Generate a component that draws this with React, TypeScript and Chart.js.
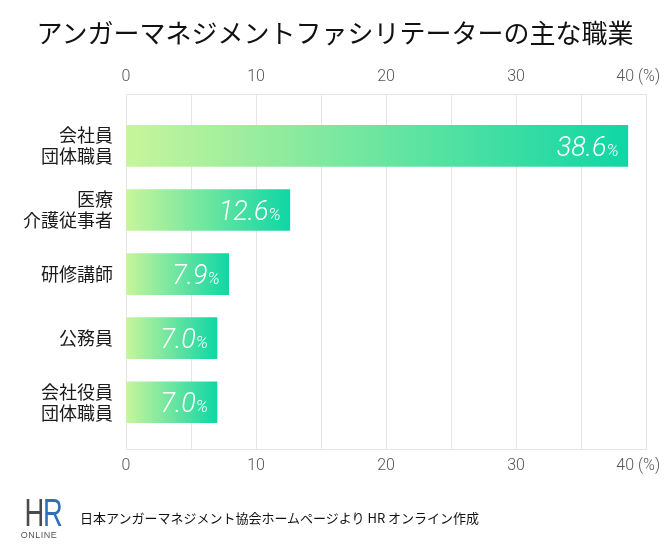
import React, { useEffect, useRef } from "react";
import { Chart, registerables } from "chart.js";

Chart.register(...registerables);

const TITLE = "アンガーマネジメントファシリテーターの主な職業";
const CATEGORIES: (string | string[])[] = [
  ["会社員", "団体職員"],
  ["医療", "介護従事者"],
  "研修講師",
  "公務員",
  ["会社役員", "団体職員"],
];
const VALUES = [38.6, 12.6, 7.9, 7.0, 7.0];
const X_MAX = 40;
const X_GRID_STEP = 5;
const X_LABEL_STEP = 10;
const UNIT = "(%)";
const PCT = "%";
const SOURCE = "日本アンガーマネジメント協会ホームページより HR オンライン作成";

const GRAD_START = "#c8f59b";
const GRAD_END = "#10d6a5";

const tickLabel = (v: number) => {
  if (v % X_LABEL_STEP !== 0) return "";
  if (v === X_MAX) return `${v} ${UNIT}    `;
  return String(v);
};

const valueLabelPlugin = {
  id: "valueLabels",
  afterDatasetsDraw(chart: any) {
    const ctx = chart.ctx;
    const meta = chart.getDatasetMeta(0);
    ctx.save();
    ctx.fillStyle = "#ffffff";
    ctx.textBaseline = "alphabetic";
    ctx.textAlign = "right";
    meta.data.forEach((bar: any, i: number) => {
      const v = VALUES[i];
      const right = bar.x - 9;
      const base = bar.y + 10;
      ctx.font = "italic 300 17px Roboto, 'Liberation Sans', sans-serif";
      const pw = ctx.measureText(PCT).width;
      ctx.fillText(PCT, right, base);
      ctx.font = "italic 300 27px Roboto, 'Liberation Sans', sans-serif";
      ctx.fillText(v.toFixed(1), right - pw, base);
    });
    ctx.restore();
  },
};

export default function App() {
  const ref = useRef<HTMLCanvasElement | null>(null);

  useEffect(() => {
    if (!ref.current) return;
    const xTickOpts = {
      stepSize: X_GRID_STEP,
      autoSkip: false,
      maxRotation: 0,
      padding: 7,
      color: "#555555",
      font: { family: "Roboto, 'Liberation Sans', sans-serif", size: 16, weight: "300" as any },
      callback: (v: any) => tickLabel(Number(v)),
    };
    const chart = new Chart(ref.current, {
      type: "bar",
      data: {
        datasets: [
          {
            data: VALUES.map((v, i) => ({ x: v, y: i })),
            barThickness: 41,
            borderWidth: 0,
            backgroundColor: (c: any) => {
              const ch = c.chart;
              const xs = ch.scales && ch.scales.x;
              if (!xs || c.type !== "data" || !c.raw) return GRAD_END;
              const x0 = xs.getPixelForValue(0);
              const x1 = xs.getPixelForValue(c.raw.x);
              if (!isFinite(x0) || !isFinite(x1) || x1 <= x0) return GRAD_END;
              const g = ch.ctx.createLinearGradient(x0, 0, x1, 0);
              g.addColorStop(0, GRAD_START);
              g.addColorStop(1, GRAD_END);
              return g;
            },
          },
        ],
      },
      options: {
        indexAxis: "y",
        responsive: false,
        animation: false,
        layout: { padding: { top: 60, right: 24, bottom: 81, left: 0 } },
        plugins: {
          legend: { display: false },
          tooltip: { enabled: false },
          title: { display: false },
        },
        scales: {
          x: {
            type: "linear",
            position: "bottom",
            min: 0,
            max: X_MAX,
            grid: { color: "#e6e6e6", lineWidth: 1, drawTicks: false },
            border: { display: true, color: "#e6e6e6" },
            ticks: xTickOpts,
            afterFit: (s: any) => {
              s.height = 30;
              s.paddingLeft = 0;
              s.paddingRight = 0;
            },
          },
          x2: {
            type: "linear",
            position: "top",
            min: 0,
            max: X_MAX,
            grid: { display: false, drawTicks: false },
            border: { display: true, color: "#e6e6e6" },
            ticks: xTickOpts,
            afterFit: (s: any) => {
              s.height = 34;
              s.paddingLeft = 0;
              s.paddingRight = 0;
            },
          },
          y: {
            type: "linear",
            reverse: true,
            offset: false,
            min: -0.81,
            max: 4.73,
            grid: { display: false, drawTicks: false, offset: false },
            border: { display: false },
            afterBuildTicks: (s: any) => {
              s.ticks = CATEGORIES.map((_, i) => ({ value: i }));
            },
            ticks: {
              autoSkip: false,
              padding: 13,
              color: "#1a1a1a",
              font: { family: "'Noto Sans CJK JP', sans-serif", size: 18, lineHeight: 1.17 },
              callback: (v: any) => CATEGORIES[Number(v)] as any,
            },
            afterFit: (s: any) => {
              s.width = 126;
              s.paddingTop = 0;
              s.paddingBottom = 0;
            },
          },
        },
      } as any,
      plugins: [valueLabelPlugin],
    });
    return () => chart.destroy();
  }, []);

  return (
    <div style={{ position: "relative", width: 670, height: 560, margin: -8, background: "#fff" }}>
      <canvas ref={ref} width={670} height={560} style={{ display: "block", width: 670, height: 560 }} />
      <div
        style={{
          position: "absolute",
          top: 14,
          left: 0,
          width: 670,
          textAlign: "center",
          fontFamily: "'Noto Sans CJK JP', sans-serif",
          fontSize: 26,
          lineHeight: "36px",
          color: "#111",
        }}
      >
        {TITLE}
      </div>
      <div style={{ position: "absolute", left: 19, top: 496, width: 40, textAlign: "center" }}>
        <div
          style={{
            fontFamily: "'Liberation Sans Narrow', 'Liberation Sans', sans-serif",
            fontSize: 38,
            lineHeight: "34px",
            letterSpacing: -2,
            whiteSpace: "nowrap",
            transform: "scaleX(0.72)",
            transformOrigin: "center",
          }}
        >
          <span style={{ color: "#4a4a4a" }}>H</span>
          <span style={{ color: "#2f6fb4" }}>R</span>
        </div>
        <div
          style={{
            fontFamily: "'Liberation Sans', sans-serif",
            fontSize: 9,
            lineHeight: "10px",
            color: "#555",
            letterSpacing: 0.5,
          }}
        >
          ONLINE
        </div>
      </div>
      <div
        style={{
          position: "absolute",
          left: 80,
          top: 509,
          fontFamily: "'Noto Sans CJK JP', sans-serif",
          fontSize: 13,
          lineHeight: "18px",
          color: "#111",
          whiteSpace: "nowrap",
        }}
      >
        {SOURCE}
      </div>
    </div>
  );
}
